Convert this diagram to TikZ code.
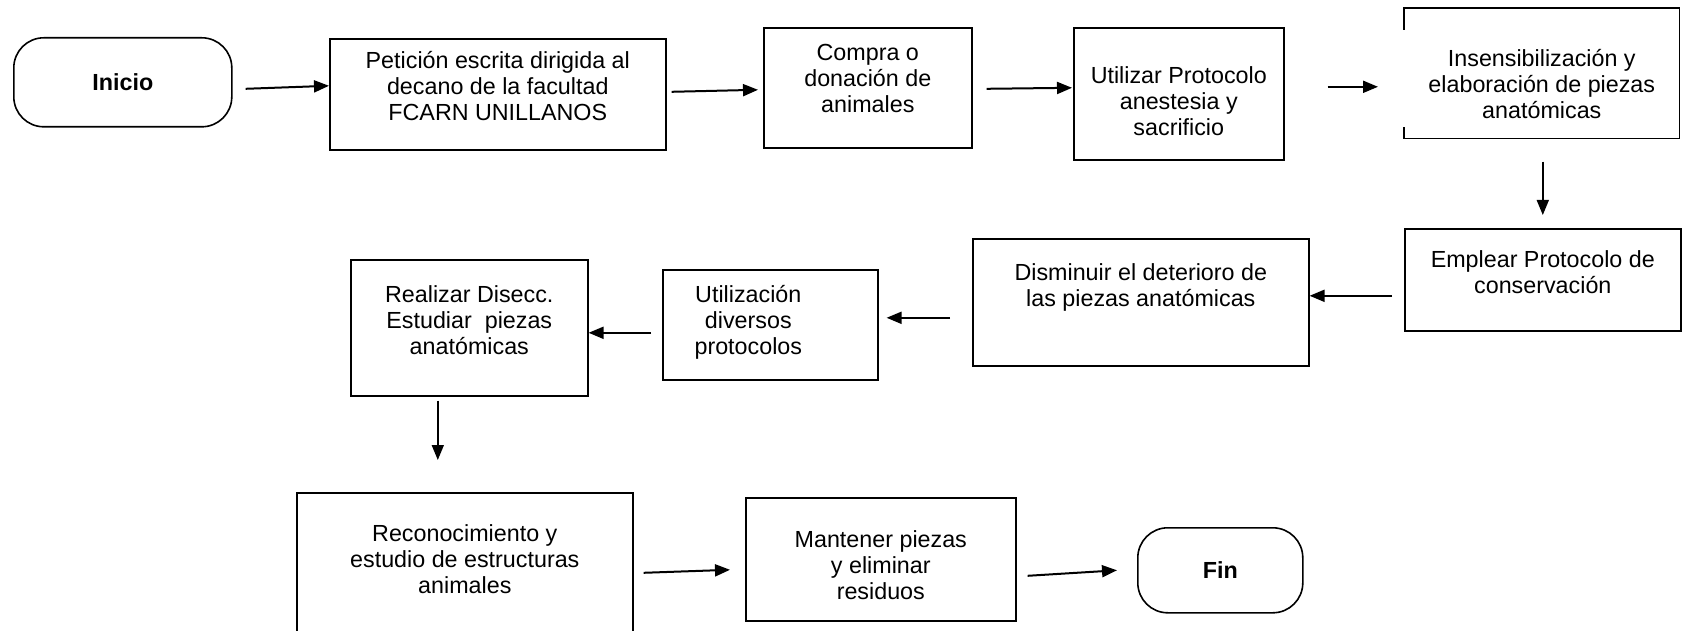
\documentclass[tikz,border=0pt]{standalone}
\usepackage{fontspec}
\setmainfont{Liberation Sans}
\usepackage{tikz}
\usetikzlibrary{arrows.meta,positioning}

\begin{document}
\begin{tikzpicture}[x=1pt,y=-1pt,
      myproc/.style={
         rectangle,
         draw=black,
         line width=1.6pt,
         align=center,
         inner sep=0pt,
         anchor=north west,
         font=\fontsize{23.3}{26}\selectfont},
      myterm/.style={
         rectangle,
         rounded corners=30pt,
         draw=black,
         line width=1.6pt,
         anchor=north west,
         font=\fontsize{23.3}{26}\selectfont\bfseries},
      myarrow/.style={-{Triangle[length=15pt,width=12pt]},line width=2pt}
      ]
      \clip (0,0) rectangle (1682,631);
      \fill[white] (0,0) rectangle (1682,631);

      % first row
      \node[myterm, minimum width=218pt, minimum height=89pt] (ini) at (13,37) {Inicio};
      \node[myproc, minimum width=336pt, text height=82pt, text depth=29pt] (pet) at (329,38)
         {Petición escrita dirigida al\\decano de la facultad\\FCARN UNILLANOS};
      \node[myproc, minimum width=208pt, text height=85pt, text depth=35pt] (com) at (763,27)
         {Compra o\\donación de\\animales};
      \node[myproc, minimum width=210pt, text height=108pt, text depth=24pt] (uti) at (1073,27)
         {Utilizar Protocolo\\anestesia y\\sacrificio};
      \node[myproc, draw=none, minimum width=274pt, text height=110pt, text depth=19pt] (ins) at (1404,8)
         {Insensibilización y\\elaboración de piezas\\anatómicas};

      % second row
      \node[myproc, minimum width=276pt, text height=65pt, text depth=37pt] (emp) at (1404,228)
         {Emplear Protocolo de\\conservación};
      \node[myproc, minimum width=336pt, text height=68pt, text depth=59pt] (dis) at (972,238)
         {Disminuir el deterioro de\\las piezas anatómicas};
      \node[myproc, minimum width=215pt, text height=85pt, text depth=25pt] (div) at (662,269)
         {\begin{tabular}[b]{@{}c@{}}Utilización\\diversos\\protocolos\end{tabular}\kern44pt};
      \node[myproc, minimum width=237pt, text height=95pt, text depth=41pt] (dis2) at (350,259)
         {Realizar Disecc.\\Estudiar\ \ piezas\\anatómicas};

      % third row
      \node[myproc, minimum width=336pt, text height=101pt, text depth=49pt] (rec) at (296,492)
         {Reconocimiento y\\estudio de estructuras\\animales};
      \node[myproc, minimum width=270pt, text height=102pt, text depth=21pt] (man) at (745,497)
         {Mantener piezas\\y eliminar\\residuos};
      \node[myterm, minimum width=165pt, minimum height=85pt] (fin) at (1137,527) {Fin};

      \draw[line width=1.6pt] ([yshift=-22pt]ins.north west) -- (ins.north west) -- (ins.north east)
         -- (ins.south east) -- (ins.south west) -- ([yshift=12pt]ins.south west);

\draw[myarrow] ([xshift=13pt,yshift=-6.5pt]ini.east) -- ([yshift=8.5pt]pet.west);
\draw[myarrow] ([xshift=5pt,yshift=2.5pt]pet.east) -- ([xshift=-5pt,yshift=-2pt]com.west);
\draw[myarrow] ([xshift=14pt,yshift=-1pt]com.east) -- ([xshift=-1pt,yshift=6pt]uti.west);
\draw[myarrow] ([xshift=43pt,yshift=7pt]uti.east) -- ([xshift=-26pt,yshift=-13.5pt]ins.west);
\draw[myarrow,line width=1.6pt] ([xshift=1pt,yshift=-23pt]ins.south) -- ([yshift=13pt]emp.north);
\draw[myarrow] ([xshift=-12pt,yshift=-16pt]emp.west) -- ([yshift=6.5pt]dis.east);
\draw[myarrow] ([xshift=-22pt,yshift=-15.5pt]dis.west) -- ([xshift=8pt,yshift=7pt]div.east);
\draw[myarrow] ([xshift=-11pt,yshift=-8pt]div.west) -- ([yshift=-5pt]dis2.east);
\draw[myarrow,line width=1.6pt] ([xshift=-31.5pt,yshift=-4pt]dis2.south) -- ([xshift=-27pt,yshift=32pt]rec.north);
\draw[myarrow] ([xshift=10pt,yshift=-5pt]rec.east) -- ([xshift=-15pt,yshift=-10.5pt]man.west);
\draw[myarrow] ([xshift=11pt,yshift=-16.5pt]man.east) -- ([xshift=-20pt,yshift=0pt]fin.west);
    \end{tikzpicture}
\end{document}
